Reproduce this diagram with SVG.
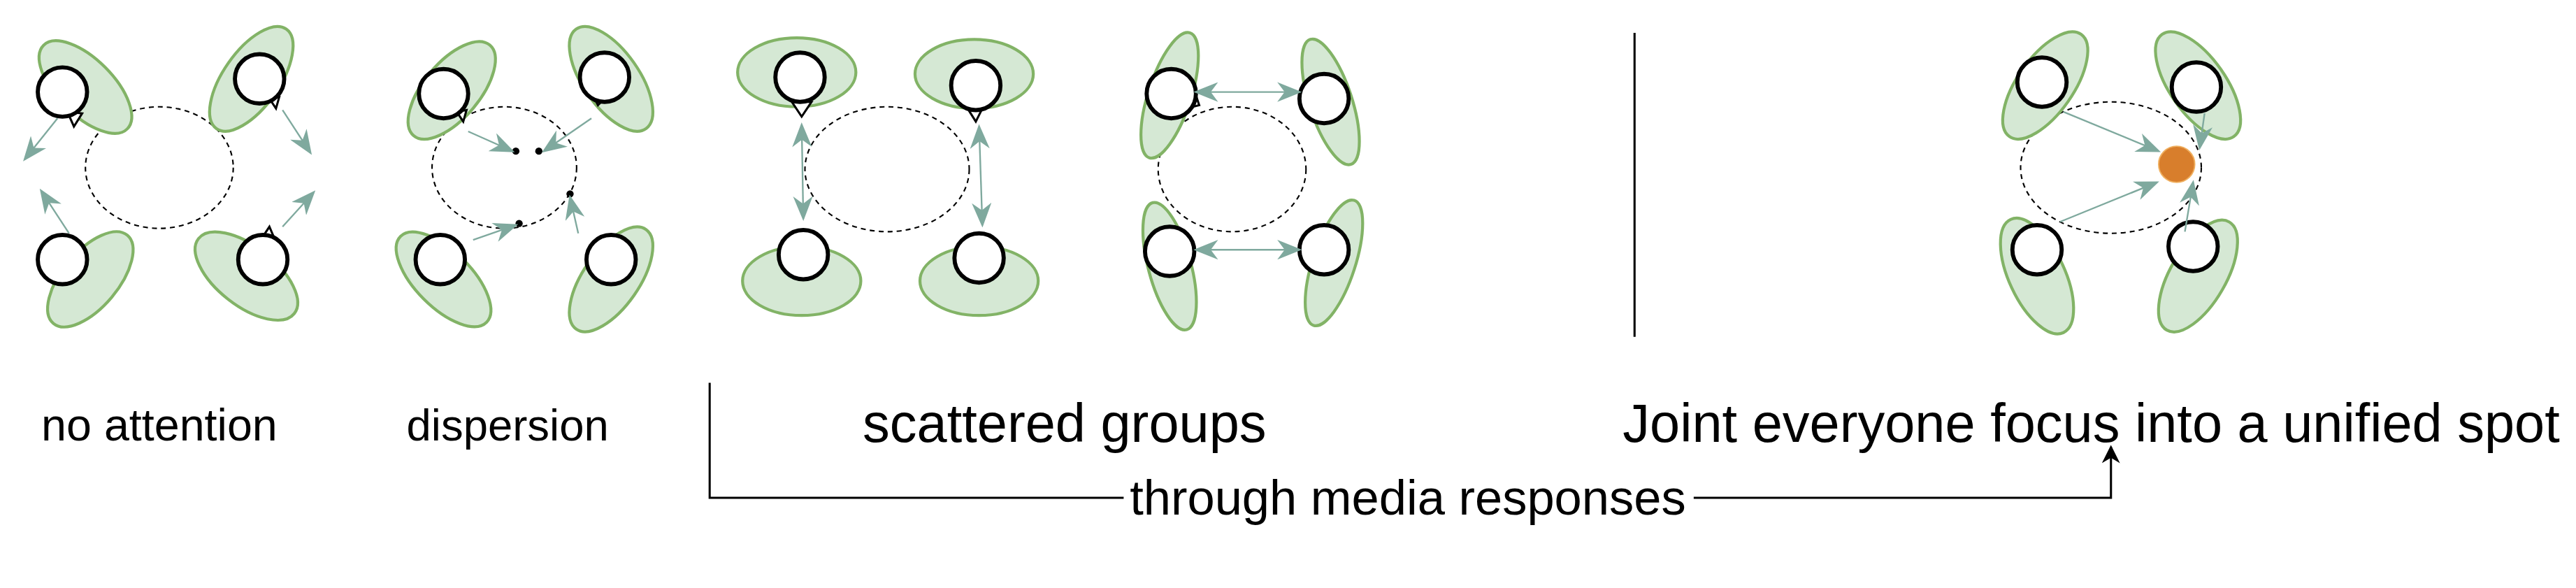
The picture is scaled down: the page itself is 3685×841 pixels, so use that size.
<svg xmlns="http://www.w3.org/2000/svg" width="3685" height="841" viewBox="0 0 3685 841">
<style>
.blob{fill:#d5e8d4;stroke:#82b366;stroke-width:1.8}
.head{fill:#fff;stroke:#000;stroke-width:2.5}
.area{fill:none;stroke:#000;stroke-width:0.9;stroke-dasharray:3 2.5}
.att{stroke:#7fa99e;stroke-width:1;fill:none}
.t{font-family:"Liberation Sans",Arial,sans-serif;fill:#000;text-anchor:middle}
.nose{fill:#fff;stroke:#000;stroke-width:1.3}
</style>
<defs>
<marker id="ah" viewBox="0 0 10 8" refX="9" refY="4" markerWidth="15" markerHeight="12" markerUnits="userSpaceOnUse" orient="auto-start-reverse">
<path d="M0,0 L10,4 L0,8 L3,4 z" fill="#7fa99e"/>
</marker>
<marker id="bk" viewBox="0 0 10 10" refX="9" refY="5" markerWidth="12" markerHeight="11" markerUnits="userSpaceOnUse" orient="auto">
<path d="M0,0 L10,5 L0,10 L3,5 z" fill="#000"/>
</marker>
</defs>
<rect width="3685" height="841" fill="#fff"/>
<g transform="scale(2.35)">
<g id="p1">
<ellipse class="area" cx="97" cy="102" rx="45" ry="37"/>
<ellipse class="blob" cx="52" cy="53" rx="36" ry="17" transform="rotate(45 52 53)"/>
<ellipse class="blob" cx="153" cy="48" rx="37" ry="17" transform="rotate(-55 153 48)"/>
<ellipse class="blob" cx="55" cy="170" rx="35" ry="17" transform="rotate(-50 55 170)"/>
<ellipse class="blob" cx="150" cy="168" rx="37" ry="18" transform="rotate(38 150 168)"/>
<path class="nose" d="M41,68 L45,77 L50,69 z"/>
<path class="nose" d="M164,60 L168,66 L170,59 z"/>
<path class="nose" d="M160,144 L164,138 L167,145 z"/>
<circle class="head" cx="38" cy="56" r="15"/>
<circle class="head" cx="158" cy="48" r="15"/>
<circle class="head" cx="38" cy="158" r="15"/>
<circle class="head" cx="160" cy="158" r="15"/>
</g>
<g id="p2">
<ellipse class="area" cx="307" cy="102" rx="44" ry="37"/>
<ellipse class="blob" cx="275" cy="55" rx="36" ry="17" transform="rotate(-50 275 55)"/>
<ellipse class="blob" cx="372" cy="48" rx="37" ry="17" transform="rotate(55 372 48)"/>
<ellipse class="blob" cx="270" cy="170" rx="37" ry="17" transform="rotate(45 270 170)"/>
<ellipse class="blob" cx="372" cy="170" rx="37" ry="17" transform="rotate(-55 372 170)"/>
<path class="nose" d="M278,68 L282,74 L284,67 z"/>
<path class="nose" d="M361,58 L364,64 L368,60 z"/>
<circle class="head" cx="270" cy="57" r="15"/>
<circle class="head" cx="368" cy="47" r="15"/>
<circle class="head" cx="268" cy="158" r="15"/>
<circle class="head" cx="372" cy="158" r="15"/>
<circle cx="314" cy="92" r="2.2"/>
<circle cx="328" cy="92" r="2.2"/>
<circle cx="347" cy="118" r="2.2"/>
<circle cx="316" cy="136" r="2.2"/>
</g>
<g id="p3">
<ellipse class="area" cx="540" cy="103" rx="50" ry="38"/>
<ellipse class="blob" cx="485" cy="44" rx="36" ry="21"/>
<ellipse class="blob" cx="593" cy="45" rx="36" ry="21"/>
<ellipse class="blob" cx="488" cy="171" rx="36" ry="21"/>
<ellipse class="blob" cx="596" cy="171" rx="36" ry="21"/>
<path class="nose" d="M482,62 L488,71 L494,62 z"/>
<path class="nose" d="M589,66 L594,74 L598,66 z"/>
<circle class="head" cx="487" cy="47" r="15"/>
<circle class="head" cx="594" cy="52" r="15"/>
<circle class="head" cx="489" cy="155" r="15"/>
<circle class="head" cx="596" cy="157" r="15"/>
</g>
<g id="p4">
<ellipse class="area" cx="750" cy="103" rx="45" ry="38"/>
<ellipse class="blob" cx="712" cy="58" rx="40" ry="13" transform="rotate(-72 712 58)"/>
<ellipse class="blob" cx="810" cy="62" rx="40" ry="13" transform="rotate(72 810 62)"/>
<ellipse class="blob" cx="712" cy="162" rx="40" ry="13" transform="rotate(75 712 162)"/>
<ellipse class="blob" cx="812" cy="160" rx="40" ry="13" transform="rotate(-72 812 160)"/>
<path class="nose" d="M726,52 L730,64 L722,66 z"/>
<circle class="head" cx="713" cy="57" r="15"/>
<circle class="head" cx="806" cy="60" r="15"/>
<circle class="head" cx="712" cy="153" r="15"/>
<circle class="head" cx="806" cy="152" r="15"/>
</g>
<g id="p5">
<ellipse class="area" cx="1285" cy="102" rx="55" ry="40"/>
<ellipse class="blob" cx="1245" cy="52" rx="38" ry="17" transform="rotate(-55 1245 52)"/>
<ellipse class="blob" cx="1338" cy="52" rx="38" ry="17" transform="rotate(55 1338 52)"/>
<ellipse class="blob" cx="1240" cy="168" rx="38" ry="17" transform="rotate(65 1240 168)"/>
<ellipse class="blob" cx="1338" cy="168" rx="38" ry="17" transform="rotate(-60 1338 168)"/>
<circle class="head" cx="1243" cy="50" r="15"/>
<circle class="head" cx="1337" cy="53" r="15"/>
<circle class="head" cx="1240" cy="152" r="15"/>
<circle class="head" cx="1335" cy="150" r="15"/>
<circle cx="1325" cy="100" r="11" fill="#d87e2c" stroke="#f0b060" stroke-width="0.8"/>
</g>
<g id="connectors">
<line class="att" x1="35" y1="72" x2="15" y2="97" marker-end="url(#ah)"/>
<line class="att" x1="172" y1="67" x2="189" y2="93" marker-end="url(#ah)"/>
<line class="att" x1="42" y1="142" x2="25" y2="116" marker-end="url(#ah)"/>
<line class="att" x1="172" y1="138" x2="191" y2="117" marker-end="url(#ah)"/>
<line class="att" x1="285" y1="80" x2="312" y2="92" marker-end="url(#ah)"/>
<line class="att" x1="360" y1="72" x2="331" y2="92" marker-end="url(#ah)"/>
<line class="att" x1="352" y1="142" x2="347" y2="120" marker-end="url(#ah)"/>
<line class="att" x1="288" y1="146" x2="314" y2="137" marker-end="url(#ah)"/>
<line class="att" x1="488" y1="76" x2="489" y2="133" marker-start="url(#ah)" marker-end="url(#ah)"/>
<line class="att" x1="596" y1="77" x2="598" y2="137" marker-start="url(#ah)" marker-end="url(#ah)"/>
<line class="att" x1="728" y1="56" x2="791" y2="56" marker-start="url(#ah)" marker-end="url(#ah)"/>
<line class="att" x1="728" y1="152" x2="791" y2="152" marker-start="url(#ah)" marker-end="url(#ah)"/>
<line class="att" x1="1256" y1="68" x2="1314" y2="92" marker-end="url(#ah)"/>
<line class="att" x1="1254" y1="135" x2="1313" y2="111" marker-end="url(#ah)"/>
<line class="att" x1="1342" y1="69" x2="1339" y2="90" marker-end="url(#ah)"/>
<line class="att" x1="1330" y1="141" x2="1335" y2="111" marker-end="url(#ah)"/>
<line x1="995" y1="20" x2="995" y2="205" stroke="#000" stroke-width="1.3"/>
<path d="M432,233 V303 H684 M1031,303 H1285 V272" fill="none" stroke="#000" stroke-width="1.3" marker-end="url(#bk)"/>
</g>
<text class="t" x="97" y="268" font-size="27.5">no attention</text>
<text class="t" x="309" y="268" font-size="27">dispersion</text>
<text class="t" x="648" y="269" font-size="33">scattered groups</text>
<text class="t" x="1273" y="269" font-size="33">Joint everyone focus into a unified spot</text>
<text class="t" x="857" y="313" font-size="30">through media responses</text>
</g>
</svg>
